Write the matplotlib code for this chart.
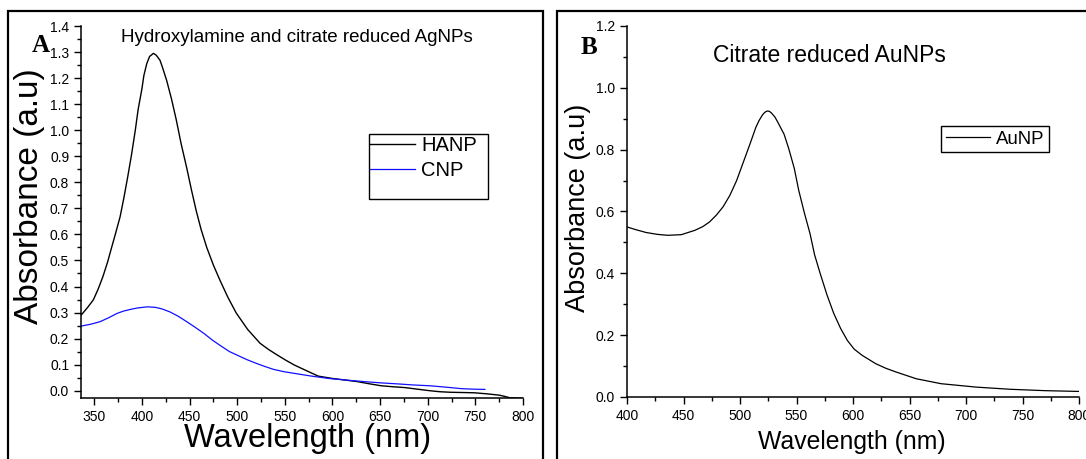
import numpy as np
import matplotlib
matplotlib.use("Agg")
import matplotlib.pyplot as plt
from matplotlib.patches import Rectangle
from matplotlib.ticker import MultipleLocator, FormatStrFormatter

plt.rcParams['font.family'] = ['Liberation Sans', 'DejaVu Sans']

# Panel A: Ag nanoparticles
hanp_wl = [336, 338, 343, 349, 354, 359, 364, 368, 372, 377, 381, 385, 389, 393, 396, 400,
           402, 405, 408, 412, 415, 419, 422, 426, 431, 436, 441, 447, 452, 457, 462, 468,
           475, 482, 490, 499, 511, 524, 533, 542, 551, 560, 572, 585, 600, 613, 626, 638,
           651, 664, 676, 689, 702, 713, 724, 737, 749, 762, 775, 781, 786, 793, 800]
hanp_abs = [0.29, 0.298, 0.32, 0.349, 0.39, 0.438, 0.495, 0.548, 0.6, 0.667, 0.74, 0.82,
            0.905, 1.0, 1.08, 1.16, 1.21, 1.255, 1.283, 1.295, 1.288, 1.268, 1.236, 1.19,
            1.12, 1.04, 0.95, 0.855, 0.77, 0.69, 0.62, 0.55, 0.482, 0.423, 0.36, 0.298,
            0.235, 0.182, 0.158, 0.137, 0.117, 0.0985, 0.078, 0.056, 0.047, 0.041, 0.035,
            0.027, 0.019, 0.015, 0.012, 0.006, 0.0, -0.004, -0.006, -0.007, -0.008, -0.012,
            -0.017, -0.022, -0.027, -0.028, -0.029]

cnp_wl = [336, 346, 356, 365, 374, 381, 389, 396, 406, 414, 421, 429, 438, 447, 456,
          465, 474, 484, 492, 502, 511, 520, 529, 538, 549, 560, 578, 596, 614, 633,
          651, 669, 685, 702, 718, 735, 747, 760]
cnp_abs = [0.248, 0.255, 0.265, 0.28, 0.297, 0.306, 0.313, 0.318, 0.322, 0.32, 0.314, 0.303,
           0.286, 0.265, 0.243, 0.22, 0.194, 0.169, 0.15, 0.133, 0.118, 0.105, 0.093, 0.082,
           0.073, 0.0665, 0.056, 0.047, 0.041, 0.035, 0.03, 0.026, 0.022, 0.019, 0.014,
           0.008, 0.006, 0.005]

# Panel B: Au nanoparticles
aunp_wl = [400, 408, 417, 427, 436, 448, 460, 467, 473, 479, 485, 491, 497, 503, 509, 514,
           517, 520, 522, 524, 526, 528, 531, 534, 539, 543, 548, 552, 557, 562, 566, 571,
           577, 583, 589, 595, 601, 608, 620, 629, 638, 656, 678, 709, 739, 770, 800]
aunp_abs = [0.55, 0.541, 0.532, 0.526, 0.523, 0.525, 0.539, 0.551, 0.566, 0.588, 0.615,
            0.652, 0.70, 0.76, 0.82, 0.872, 0.895, 0.913, 0.921, 0.925, 0.924, 0.918, 0.905,
            0.885, 0.85, 0.805, 0.74, 0.668, 0.595, 0.528, 0.46, 0.399, 0.33, 0.27, 0.222,
            0.183, 0.155, 0.135, 0.108, 0.093, 0.081, 0.059, 0.043, 0.032, 0.025, 0.0205,
            0.018]

W, H = 1086, 459
fig = plt.figure(figsize=(W / 100, H / 100), dpi=100)


def fx(px):
    return px / W


def fy(py):
    return 1 - py / H


def style_axes(ax):
    for s in ['top', 'right']:
        ax.spines[s].set_visible(False)
    for s in ['left', 'bottom']:
        ax.spines[s].set_linewidth(1.1)
    ax.tick_params(which='major', direction='out', length=5, width=1, labelsize=10)
    ax.tick_params(which='minor', direction='out', length=3, width=1)


# outer frames around each panel
fig.patches.append(Rectangle((fx(8), -0.1), fx(543 - 8), fy(11) + 0.1, transform=fig.transFigure,
                             fill=False, edgecolor='black', linewidth=1.6))
fig.patches.append(Rectangle((fx(557), -0.1), fx(1200 - 557), fy(11) + 0.1, transform=fig.transFigure,
                             fill=False, edgecolor='black', linewidth=1.6))

# ---- Panel A
axA = fig.add_axes([fx(81), fy(398), fx(523 - 81), (398 - 26) / H])
axA.plot(hanp_wl, hanp_abs, color='black', lw=1.0, label='HANP')
axA.plot(cnp_wl, cnp_abs, color='#1010ff', lw=0.9, label='CNP')
axA.set_xlim(336, 800)
axA.set_ylim(-0.028, 1.4)
axA.xaxis.set_major_locator(MultipleLocator(50))
axA.xaxis.set_minor_locator(MultipleLocator(25))
axA.yaxis.set_major_locator(MultipleLocator(0.1))
axA.yaxis.set_minor_locator(MultipleLocator(0.05))
axA.yaxis.set_major_formatter(FormatStrFormatter('%.1f'))
style_axes(axA)
axA.legend(loc='upper left', bbox_to_anchor=(fx(370), fy(136)), bbox_transform=fig.transFigure,
           borderaxespad=0, fontsize=14.5, frameon=False,
           handlelength=2.25, handletextpad=0.3, labelspacing=0.3, borderpad=0)
# legend frame (taller than the entries, as in the original)
fig.patches.append(Rectangle((fx(369), fy(199)), fx(488 - 369), (199 - 134) / H,
                             transform=fig.transFigure, fill=False, edgecolor='black',
                             linewidth=1.0))

fig.text(fx(297), fy(37), 'Hydroxylamine and citrate reduced AgNPs', fontsize=13.5,
         ha='center', va='center')
fig.text(fx(41), fy(45), 'A', fontsize=18, fontweight='bold', family='Liberation Serif',
         ha='center', va='center')
fig.text(fx(30), fy(196), 'Absorbance (a.u)', fontsize=24, rotation=90, ha='center', va='center')
fig.text(fx(308), fy(438), 'Wavelength (nm)', fontsize=23.5, ha='center', va='center')

# ---- Panel B
axB = fig.add_axes([fx(627), fy(397), fx(1079 - 627), (397 - 26) / H])
axB.plot(aunp_wl, aunp_abs, color='black', lw=0.9, label='AuNP')
axB.set_xlim(400, 800)
axB.set_ylim(0, 1.2)
axB.xaxis.set_major_locator(MultipleLocator(50))
axB.xaxis.set_minor_locator(MultipleLocator(25))
axB.yaxis.set_major_locator(MultipleLocator(0.2))
axB.yaxis.set_minor_locator(MultipleLocator(0.1))
axB.yaxis.set_major_formatter(FormatStrFormatter('%.1f'))
style_axes(axB)
axB.legend(loc='upper left', bbox_to_anchor=(fx(941), fy(126)), bbox_transform=fig.transFigure,
           borderaxespad=0, fontsize=13.4, frameon=True, fancybox=False, edgecolor='black',
           handlelength=2.4, handletextpad=0.3, borderpad=0.25,
           framealpha=1).get_frame().set_linewidth(1.0)

fig.text(fx(829), fy(55), 'Citrate reduced AuNPs', fontsize=16.5, ha='center', va='center')
fig.text(fx(589), fy(48), 'B', fontsize=18, fontweight='bold', family='Liberation Serif',
         ha='center', va='center')
fig.text(fx(578), fy(208), 'Absorbance (a.u)', fontsize=19.5, rotation=90, ha='center', va='center')
fig.text(fx(852), fy(442), 'Wavelength (nm)', fontsize=17.8, ha='center', va='center')

fig.savefig('out.png', dpi=100)
